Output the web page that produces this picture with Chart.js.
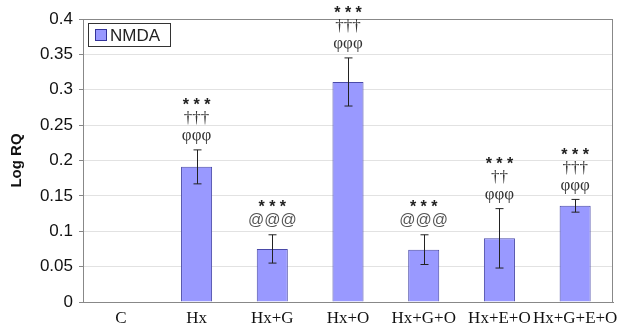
<!DOCTYPE html>
<html>
<head>
<meta charset="utf-8">
<script src="https://cdn.jsdelivr.net/npm/chart.js@4.4.1/dist/chart.umd.min.js"></script>
<style>
  html, body { margin: 0; padding: 0; background: #fff; overflow: hidden; }
  #wrap { width: 632px; height: 328px; }
</style>
</head>
<body>
<div id="wrap"><canvas id="nmdaChart" width="632" height="328"></canvas></div>
<script>
// values
const groups = ["C", "Hx", "Hx+G", "Hx+O", "Hx+G+O", "Hx+E+O", "Hx+G+E+O"];
const nmdaValues = [0, 0.191, 0.075, 0.311, 0.074, 0.090, 0.136];
const nmdaErrors = [0, 0.024, 0.020, 0.034, 0.021, 0.042, 0.009];
const marks = [
  [],
  ["***", "\u2020\u2020\u2020", "\u03c6\u03c6\u03c6"],
  ["***", "@@@"],
  ["***", "\u2020\u2020\u2020", "\u03c6\u03c6\u03c6"],
  ["***", "@@@"],
  ["***", "\u2020\u2020", "\u03c6\u03c6\u03c6"],
  ["***", "\u2020\u2020\u2020", "\u03c6\u03c6\u03c6"]
];
const yTicks = [0, 0.05, 0.1, 0.15, 0.2, 0.25, 0.3, 0.35, 0.4];

// error bars, significance marks, frame and legend
const extrasPlugin = {
  id: "extras",
  afterDatasetsDraw(chart) {
    const ctx = chart.ctx;
    const y = chart.scales.y;
    const meta = chart.getDatasetMeta(0);
    const area = chart.chartArea;

    ctx.save();
    ctx.strokeStyle = "#888";
    ctx.lineWidth = 1;
    ctx.strokeRect(area.left + 0.5, area.top + 0.5, area.right - area.left - 1, area.bottom - area.top);

    ctx.strokeStyle = "#222";
    meta.data.forEach((bar, i) => {
      const err = nmdaErrors[i];
      if (!err) return;
      const x = Math.round(bar.x) + 0.5;
      const top = y.getPixelForValue(nmdaValues[i] + err);
      const bot = y.getPixelForValue(nmdaValues[i] - err);
      ctx.beginPath();
      ctx.moveTo(x, top); ctx.lineTo(x, bot);
      ctx.moveTo(x - 4, top); ctx.lineTo(x + 4, top);
      ctx.moveTo(x - 4, bot); ctx.lineTo(x + 4, bot);
      ctx.stroke();
    });

    ctx.textAlign = "center";
    ctx.textBaseline = "middle";
    meta.data.forEach((bar, i) => {
      const lines = marks[i];
      if (!lines.length) return;
      const base = y.getPixelForValue(nmdaValues[i] + nmdaErrors[i]) - 14;
      lines.forEach((t, k) => {
        const ty = base - (lines.length - 1 - k) * 17;
        if (t.startsWith("*")) {
          ctx.fillStyle = "#222";
          ctx.font = "bold 16px 'Liberation Sans', Arial, sans-serif";
          ctx.fillText("* * *".slice(0, t.length * 2 - 1), bar.x, ty + 4);
        } else if (t.startsWith("@")) {
          ctx.fillStyle = "#555";
          ctx.font = "16px 'Liberation Sans', Arial, sans-serif";
          ctx.fillText(t, bar.x, ty);
        } else {
          ctx.fillStyle = "#333";
          ctx.font = "17px 'Liberation Serif', 'Times New Roman', serif";
          ctx.fillText(t, bar.x, ty);
        }
      });
    });

    // legend box
    ctx.strokeStyle = "#333";
    ctx.fillStyle = "#fff";
    ctx.fillRect(88.5, 23.5, 82, 23);
    ctx.strokeRect(88.5, 23.5, 82, 23);
    ctx.fillStyle = "#9999ff";
    ctx.fillRect(95.5, 29.5, 11, 11);
    ctx.strokeStyle = "#333399";
    ctx.strokeRect(95.5, 29.5, 11, 11);
    ctx.fillStyle = "#222";
    ctx.textAlign = "left";
    ctx.font = "17px 'Liberation Sans', Arial, sans-serif";
    ctx.fillText("NMDA", 110, 36);
    ctx.restore();
  }
};

function initNmdaChart() {
  const el = document.getElementById("nmdaChart");
  if (!el) {
    console.error("nmdaChart canvas not found");
    return;
  }

  new Chart(el.getContext("2d"), {
    type: "bar",
    data: {
      labels: groups,
      datasets: [{
        label: "NMDA",
        data: nmdaValues,
        backgroundColor: "#9999ff",
        borderColor: "#4a4aa8",
        borderWidth: 1,
        categoryPercentage: 1.0,
        barPercentage: 0.41
      }]
    },
    options: {
      responsive: false,
      animation: false,
      devicePixelRatio: 1,
      layout: { padding: { top: 19, right: 19, left: 8, bottom: 0 } },
      plugins: {
        legend: { display: false },
        tooltip: { enabled: false }
      },
      scales: {
        x: {
          grid: { display: false, drawTicks: false },
          border: { color: "#888" },
          ticks: {
            color: "#111",
            padding: 6,
            autoSkip: false,
            minRotation: 0,
            maxRotation: 0,
            font: { family: "'Liberation Serif', 'Times New Roman', serif", size: 17 }
          },
          afterFit(scale) { scale.height = 26; }
        },
        y: {
          min: 0,
          max: 0.4,
          afterBuildTicks(scale) { scale.ticks = yTicks.map(v => ({ value: v })); },
          grid: { color: "#e2e2e2", drawTicks: true, tickLength: 4, tickColor: "#888" },
          border: { color: "#888" },
          title: {
            display: true,
            text: "Log RQ",
            color: "#111",
            padding: { top: 0, bottom: 4 },
            font: { family: "'Liberation Sans', Arial, sans-serif", size: 15, weight: "bold" }
          },
          ticks: {
            color: "#111",
            padding: 6,
            font: { family: "'Liberation Sans', Arial, sans-serif", size: 17 },
            callback: v => String(Math.round(v * 100) / 100)
          },
          afterFit(scale) { scale.width = 75; }
        }
      }
    },
    plugins: [extrasPlugin]
  });
}

document.addEventListener("DOMContentLoaded", () => {
  initNmdaChart();
});
</script>
</body>
</html>
